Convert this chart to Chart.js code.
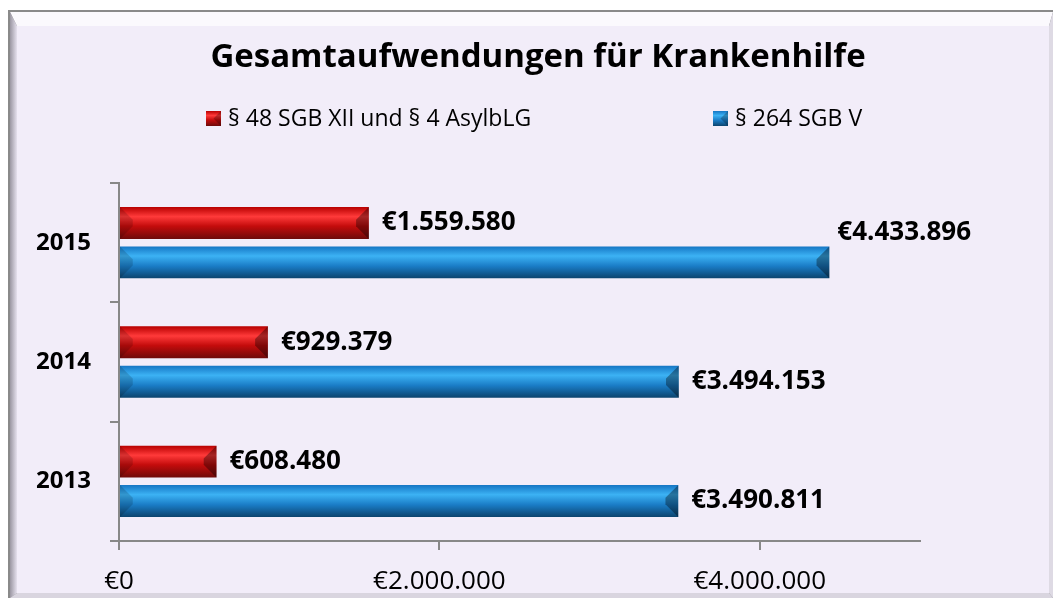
<!DOCTYPE html>
<html>
<head>
<meta charset="utf-8">
<script src="https://cdn.jsdelivr.net/npm/chart.js@4"></script>
<style>
  html, body { margin: 0; padding: 0; background: #fff; }
</style>
</head>
<body>
<canvas id="grafico" width="1053" height="598"></canvas>
<script>
/* Dados */
var titulo = 'Gesamtaufwendungen für Krankenhilfe';
var anos = ['2015', '2014', '2013'];
var nomesSeries = ['§ 48 SGB XII und § 4 AsylbLG', '§ 264 SGB V'];
var valoresSGB12 = [1559580, 929379, 608480];
var valoresSGB5 = [4433896, 3494153, 3490811];
var ticksX = [0, 2000000, 4000000];
var maxX = 5000000;

/* Estilo */
var fonte = '"Open Sans", "DejaVu Sans", sans-serif';
var gradVermelho = [[0, '#b80000'], [0.3, '#ff3a3a'], [0.6, '#c40c0c'], [1, '#6e0a0a']];
var gradAzul = [[0, '#1576c4'], [0.3, '#3cb2f4'], [0.62, '#1a7cc6'], [1, '#0c446e']];

function euro(v) {
  return '€' + String(v).replace(/\B(?=(\d{3})+(?!\d))/g, '.');
}

function gradiente(ctx, stops, y0, y1) {
  var g = ctx.createLinearGradient(0, y0, 0, y1);
  stops.forEach(function (s) { g.addColorStop(s[0], s[1]); });
  return g;
}

/* moldura estilo Excel */
var pluginFundo = {
  id: 'fundo',
  beforeDraw: function (chart) {
    var ctx = chart.ctx, W = chart.width, H = chart.height;
    ctx.save();
    ctx.fillStyle = '#ffffff';
    ctx.fillRect(0, 0, W, H);
    ctx.fillStyle = '#8a8a8a';
    ctx.fillRect(8, 10, W - 8, H - 10);
    // faixa superior
    ctx.fillStyle = '#fbf9fd';
    ctx.beginPath();
    ctx.moveTo(10, 12); ctx.lineTo(W, 12); ctx.lineTo(W - 4, 26); ctx.lineTo(17, 26);
    ctx.closePath(); ctx.fill();
    // faixa esquerda
    var gl = ctx.createLinearGradient(10, 0, 17, 0);
    gl.addColorStop(0, '#9b97a2'); gl.addColorStop(1, '#e6e1ee');
    ctx.fillStyle = gl;
    ctx.beginPath();
    ctx.moveTo(10, 12); ctx.lineTo(17, 26); ctx.lineTo(17, H - 5); ctx.lineTo(10, H);
    ctx.closePath(); ctx.fill();
    // faixa direita
    ctx.fillStyle = '#dedae4';
    ctx.beginPath();
    ctx.moveTo(W, 12); ctx.lineTo(W, H); ctx.lineTo(W - 4, H - 5); ctx.lineTo(W - 4, 26);
    ctx.closePath(); ctx.fill();
    // faixa inferior
    ctx.fillStyle = '#d9d5df';
    ctx.beginPath();
    ctx.moveTo(10, H); ctx.lineTo(W, H); ctx.lineTo(W - 4, H - 5); ctx.lineTo(17, H - 5);
    ctx.closePath(); ctx.fill();
    // painel
    ctx.fillStyle = '#f2edf9';
    ctx.fillRect(17, 26, W - 4 - 17, H - 5 - 26);
    ctx.restore();
  }
};

/* titulo + legenda */
var pluginCabecalho = {
  id: 'cabecalho',
  afterDraw: function (chart) {
    var ctx = chart.ctx;
    ctx.save();
    ctx.fillStyle = '#000';
    ctx.textBaseline = 'middle';
    ctx.textAlign = 'center';
    ctx.font = 'bold 33px ' + fonte;
    ctx.fillText(titulo, 538, 58);

    ctx.textAlign = 'left';
    ctx.font = '23px ' + fonte;
    chart.data.datasets.forEach(function (ds, i) {
      var x = 206 + i * 507, y = 111;
      ctx.fillStyle = gradiente(ctx, ds.grad, y, y + 15);
      ctx.fillRect(x, y, 15, 15);
      ctx.fillStyle = 'rgba(0,0,0,0.25)';
      ctx.beginPath();
      ctx.moveTo(x + 15, y); ctx.lineTo(x + 15, y + 15); ctx.lineTo(x + 7.5, y + 7.5);
      ctx.closePath(); ctx.fill();
      ctx.fillStyle = '#000';
      ctx.fillText(ds.label, x + 22, y + 8);
    });
    ctx.restore();
  }
};

/* barras com bisel e rotulos */
var pluginBarras = {
  id: 'barras3d',
  beforeDatasetsDraw: function (chart) {
    var ctx = chart.ctx;
    chart.data.datasets.forEach(function (ds, i) {
      chart.getDatasetMeta(i).data.forEach(function (bar) {
        var t = bar.y - bar.height / 2, b = bar.y + bar.height / 2;
        bar.options = Object.assign({}, bar.options, { backgroundColor: gradiente(ctx, ds.grad, t, b) });
      });
    });
  },
  afterDatasetsDraw: function (chart) {
    var ctx = chart.ctx, area = chart.chartArea;
    ctx.save();
    chart.data.datasets.forEach(function (ds, i) {
      chart.getDatasetMeta(i).data.forEach(function (bar, j) {
        var l = bar.base, r = bar.x, h = bar.height;
        var t = bar.y - h / 2, b = bar.y + h / 2, d = h * 0.4;
        ctx.fillStyle = 'rgba(0,0,0,0.35)';
        ctx.beginPath();
        ctx.moveTo(r, t); ctx.lineTo(r, b); ctx.lineTo(r - d, b - d); ctx.lineTo(r - d, t + d);
        ctx.closePath(); ctx.fill();
        ctx.fillStyle = 'rgba(0,0,0,0.15)';
        ctx.beginPath();
        ctx.moveTo(l, t); ctx.lineTo(l + d, t + d); ctx.lineTo(l + d, b - d); ctx.lineTo(l, b);
        ctx.closePath(); ctx.fill();

        ctx.font = 'bold 26px ' + fonte;
        ctx.fillStyle = '#000';
        ctx.textBaseline = 'middle';
        var txt = euro(ds.data[j]);
        var x = r + 13, y = bar.y;
        if (x + ctx.measureText(txt).width > area.right) {
          x = r + 8;
          y = bar.y - 30;
        }
        ctx.fillText(txt, x, y);
      });
    });
    ctx.restore();
  }
};

new Chart(document.getElementById('grafico'), {
  type: 'bar',
  data: {
    labels: anos,
    datasets: [
      { label: nomesSeries[0], data: valoresSGB12, grad: gradVermelho, backgroundColor: '#d01010', borderWidth: 0 },
      { label: nomesSeries[1], data: valoresSGB5, grad: gradAzul, backgroundColor: '#1a86d8', borderWidth: 0 }
    ]
  },
  options: {
    indexAxis: 'y',
    responsive: false,
    animation: false,
    categoryPercentage: 0.66,
    barPercentage: 0.81,
    layout: { padding: { top: 183, right: 133, left: 0, bottom: 0 } },
    plugins: {
      legend: { display: false },
      title: { display: false },
      tooltip: { enabled: false }
    },
    scales: {
      x: {
        min: 0,
        max: maxX,
        afterBuildTicks: function (s) { s.ticks = ticksX.map(function (v) { return { value: v }; }); },
        afterFit: function (s) { s.height = 57; },
        ticks: {
          callback: function (v) { return euro(v); },
          font: { family: fonte, size: 26 },
          color: '#000',
          padding: 16,
          maxRotation: 0
        },
        grid: { drawOnChartArea: false, tickLength: 9, color: '#888888', lineWidth: 2 },
        border: { color: '#888888', width: 2 }
      },
      y: {
        afterFit: function (s) { s.width = 119; },
        ticks: {
          font: { family: fonte, size: 24, weight: 'bold' },
          color: '#000',
          padding: 19
        },
        grid: { drawOnChartArea: false, tickLength: 9, color: '#888888', lineWidth: 2, offset: true },
        border: { color: '#888888', width: 2 }
      }
    }
  },
  plugins: [pluginFundo, pluginCabecalho, pluginBarras]
});
</script>
</body>
</html>
